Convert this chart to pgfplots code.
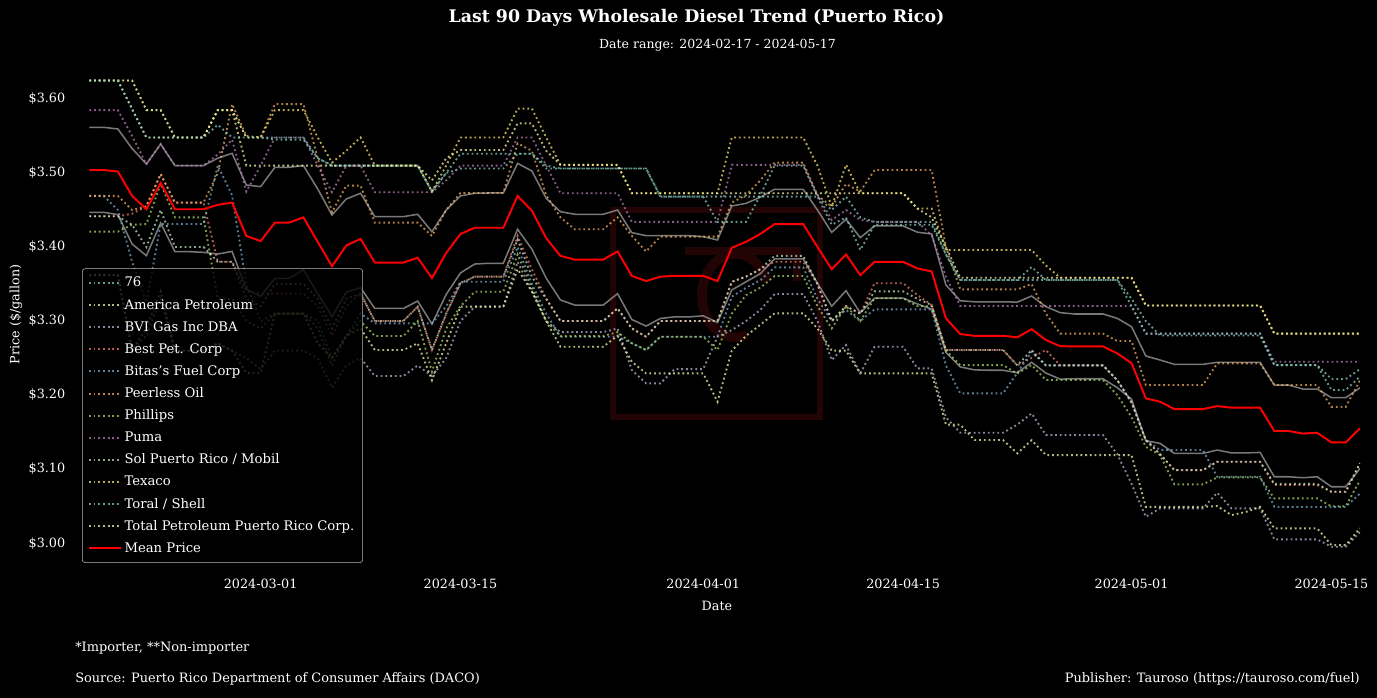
\documentclass[border=0pt]{standalone}
\usepackage{fontspec}
\setmainfont{DejaVu Serif}
\usepackage{pgfplots}
\usepackage{pgfplotstable}
\pgfplotsset{compat=1.18}
\usepgfplotslibrary{fillbetween}

\definecolor{cteal}{HTML}{8DD3C7}
\definecolor{cpale}{HTML}{FFFFB3}
\definecolor{clav}{HTML}{BEBADA}
\definecolor{cred}{HTML}{FB8072}
\definecolor{cblue}{HTML}{80B1D3}
\definecolor{corange}{HTML}{FDB462}
\definecolor{cgreen}{HTML}{B3DE69}
\definecolor{cpurple}{HTML}{BC80BD}
\definecolor{cmint}{HTML}{CCEBC5}
\definecolor{cgold}{HTML}{FFED6F}
\definecolor{gridc}{RGB}{48,48,48}
\definecolor{bandline}{RGB}{120,120,120}
\definecolor{wmark}{RGB}{34,4,4}

% day 0 = 2024-03-01; mean price and the band around it
\pgfplotstableread{
d mean lo hi
-12 3.504 3.4469 3.5617
-11 3.504 3.4469 3.5617
-10 3.502 3.4437 3.5595
-9 3.469 3.404 3.533
-8 3.451 3.3883 3.512
-7 3.4865 3.4324 3.539
-6 3.451 3.3937 3.510
-5 3.451 3.3937 3.510
-4 3.451 3.3928 3.510
-3 3.457 3.3905 3.520
-2 3.460 3.394 3.5266
-1 3.415 3.3432 3.4838
0 3.408 3.3333 3.4815
1 3.433 3.3577 3.5077
2 3.433 3.3577 3.5077
3 3.440 3.3693 3.510
4 3.407 3.337 3.4784
5 3.374 3.306 3.4432
6 3.402 3.339 3.4649
7 3.411 3.345 3.4726
8 3.379 3.317 3.441
9 3.379 3.317 3.441
10 3.379 3.317 3.441
11 3.3855 3.327 3.4442
12 3.358 3.296 3.4207
13 3.392 3.336 3.450
14 3.4176 3.365 3.469
15 3.426 3.377 3.4726
16 3.426 3.378 3.473
17 3.426 3.378 3.473
18 3.469 3.424 3.513
19 3.449 3.397 3.5027
20 3.412 3.358 3.4658
21 3.388 3.3284 3.4477
22 3.383 3.3216 3.4442
23 3.383 3.3216 3.4442
24 3.383 3.3216 3.4442
25 3.394 3.337 3.450
26 3.361 3.302 3.4194
27 3.354 3.2932 3.4153
28 3.360 3.3035 3.4153
29 3.361 3.3056 3.4153
30 3.361 3.3056 3.4153
31 3.361 3.307 3.414
32 3.354 3.298 3.4095
33 3.399 3.3419 3.4554
34 3.407 3.353 3.459
35 3.4176 3.364 3.4672
36 3.431 3.384 3.478
37 3.431 3.384 3.478
38 3.431 3.384 3.478
39 3.400 3.351 3.450
40 3.370 3.320 3.4198
41 3.390 3.341 3.4374
42 3.362 3.311 3.4126
43 3.380 3.331 3.4284
44 3.380 3.331 3.4284
45 3.380 3.331 3.4284
46 3.371 3.323 3.420
47 3.367 3.316 3.4176
48 3.3036 3.2575 3.3486
49 3.2824 3.238 3.3274
50 3.280 3.234 3.326
51 3.280 3.2335 3.326
52 3.280 3.2335 3.326
53 3.278 3.2302 3.3255
54 3.289 3.2442 3.3338
55 3.2743 3.2297 3.3194
56 3.266 3.2215 3.3113
57 3.2657 3.222 3.3095
58 3.2657 3.222 3.3095
59 3.2657 3.222 3.3095
60 3.2563 3.210 3.3036
61 3.243 3.1945 3.2923
62 3.1955 3.1383 3.2527
63 3.191 3.1347 3.2473
64 3.181 3.1212 3.2415
65 3.181 3.1212 3.2415
66 3.181 3.1212 3.2415
67 3.185 3.1257 3.2442
68 3.183 3.1218 3.2442
69 3.183 3.1218 3.2442
70 3.183 3.1225 3.2442
71 3.1514 3.0896 3.2135
72 3.1514 3.0896 3.2135
73 3.148 3.0883 3.2081
74 3.149 3.0896 3.2081
75 3.136 3.0761 3.1964
76 3.136 3.0761 3.1964
77 3.155 3.1009 3.2099
}\band

\pgfplotsset{ser/.style={line width=1.35pt, dash pattern=on 1.3pt off 2.1pt, opacity=0.72}}

\begin{document}
\begin{tikzpicture}
\fill[black] (0,0) rectangle (991.44pt,502.56pt);
% faint logo behind the plot
\draw[wmark, line width=4.5pt] (441.4pt,202.3pt) rectangle (590.4pt,351.4pt);
\draw[wmark, line width=7pt] (552pt,300pt) arc (20:290:24pt and 30pt);
\draw[wmark, line width=6pt] (493pt,322pt) -- (574pt,322pt) -- (574pt,300pt);

\begin{axis}[
  at={(54pt,92.88pt)}, anchor=south west,
  width=925.2pt, height=367.2pt, scale only axis,
  xmin=-13, xmax=77, ymin=2.965, ymax=3.654,
  axis line style={white, line width=0.8pt},
  xtick={0,14,31,45,61,75},
  xticklabels={2024-03-01,2024-03-15,2024-04-01,2024-04-15,2024-05-01,2024-05-15},
  ytick={3.0,3.1,3.2,3.3,3.4,3.5,3.6},
  yticklabels={\$3.00,\$3.10,\$3.20,\$3.30,\$3.40,\$3.50,\$3.60},
  grid=major, grid style={gridc, line width=0.6pt},
  tick align=outside, major tick length=3.5pt,
  tick style={white, line width=0.8pt},
  ticklabel style={white, font=\fontsize{9.2}{11}\selectfont},
  legend cell align=left,
  legend image code/.code={\draw[#1] (0pt,0pt) -- (23pt,0pt);},
  legend style={at={(0.0055,0.012)}, anchor=south west,
    fill=black, fill opacity=0.8, text opacity=1, draw opacity=1,
    draw=white!72!black, rounded corners=2pt, text=white,
    font=\fontsize{9.5}{11}\selectfont, row sep=3.3pt,
    inner xsep=4pt, inner ysep=4pt},
]
% confidence band
\addplot[name path=hi, draw=bandline, line width=1.1pt, forget plot] table[x=d, y=hi] {\band};
\addplot[name path=lo, draw=bandline, line width=1.1pt, forget plot] table[x=d, y=lo] {\band};
\addplot[fill=white, fill opacity=0.2, draw=none, forget plot] fill between[of=hi and lo];

\addplot[ser, cteal] coordinates {(-12,3.625) (-9,3.625) (-8,3.585) (-7,3.585) (-6,3.548) (-4,3.548) (-3,3.585) (-2,3.585) (-1,3.548) (3,3.548) (4,3.52) (5,3.51) (11,3.51) (12,3.475) (13,3.50) (14,3.506) (17,3.506) (18,3.526) (19,3.526) (20,3.51) (21,3.506) (27,3.506) (28,3.468) (39,3.468) (40,3.45) (41,3.468) (42,3.44) (43,3.434) (47,3.434) (48,3.39) (49,3.3554) (53,3.3554) (54,3.373) (55,3.3554) (60,3.3554) (61,3.33) (62,3.30) (63,3.2804) (70,3.2804) (71,3.2405) (74,3.2405) (75,3.2216) (76,3.2216) (77,3.235)};
\addlegendentry{76}
\addplot[ser, cpale] coordinates {(-12,3.625) (-10,3.625) (-8,3.548) (-4,3.548) (-3,3.585) (-2,3.585) (-1,3.51) (11,3.51) (12,3.49) (13,3.52) (14,3.531) (17,3.531) (18,3.567) (19,3.567) (20,3.53) (21,3.511) (25,3.511) (26,3.4726) (45,3.4726) (46,3.452) (47,3.44) (48,3.40) (49,3.3585) (61,3.3585) (62,3.321) (70,3.321) (71,3.283) (77,3.283)};
\addlegendentry{America Petroleum}
\addplot[ser, clav] coordinates {(-12,3.362) (-10,3.362) (-9,3.26) (-8,3.28) (-7,3.33) (-6,3.26) (-4,3.26) (-3,3.27) (-2,3.26) (-1,3.25) (0,3.235) (1,3.26) (3,3.26) (4,3.25) (5,3.21) (6,3.24) (7,3.25) (8,3.2257) (10,3.2257) (11,3.24) (12,3.2257) (13,3.25) (14,3.30) (15,3.3194) (17,3.3194) (18,3.38) (19,3.34) (20,3.30) (21,3.285) (24,3.285) (25,3.29) (26,3.2338) (27,3.2158) (28,3.2158) (29,3.2351) (31,3.2351) (32,3.2788) (33,3.2878) (34,3.30) (35,3.315) (36,3.3365) (38,3.3365) (39,3.30) (40,3.2473) (41,3.2676) (42,3.229) (43,3.2653) (45,3.2653) (46,3.236) (47,3.236) (48,3.17) (49,3.149) (52,3.149) (53,3.16) (54,3.1752) (55,3.146) (59,3.146) (60,3.12) (61,3.08) (62,3.0356) (63,3.0469) (66,3.0469) (67,3.068) (68,3.0469) (70,3.0469) (71,3.005) (74,3.005) (75,2.995) (76,2.995) (77,3.0153)};
\addlegendentry{BVI Gas Inc DBA}
\addplot[ser, cred] coordinates {(-12,3.4415) (-10,3.4415) (-9,3.445) (-8,3.455) (-7,3.4986) (-6,3.46) (-4,3.46) (-3,3.38) (-2,3.38) (-1,3.34) (0,3.337) (3,3.337) (4,3.32) (5,3.28) (6,3.32) (7,3.337) (8,3.30) (10,3.30) (11,3.3194) (12,3.2608) (13,3.31) (14,3.351) (15,3.36) (17,3.36) (18,3.415) (19,3.37) (20,3.33) (21,3.30) (24,3.30) (25,3.3171) (26,3.29) (27,3.2788) (28,3.30) (32,3.30) (33,3.353) (34,3.36) (35,3.37) (36,3.38) (38,3.38) (39,3.35) (40,3.30) (41,3.32) (42,3.31) (43,3.351) (45,3.351) (46,3.335) (47,3.3216) (48,3.2608) (52,3.2608) (53,3.24) (55,3.2608) (56,3.24) (59,3.24) (60,3.22) (61,3.19) (62,3.1392) (63,3.12) (64,3.0986) (66,3.0986) (67,3.1099) (70,3.1099) (71,3.0784) (74,3.0784) (75,3.0693) (76,3.0693) (77,3.108)};
\addlegendentry{Best Pet. Corp}
\addplot[ser, cblue] coordinates {(-12,3.469) (-11,3.469) (-10,3.45) (-9,3.38) (-8,3.325) (-7,3.431) (-4,3.431) (-3,3.51) (-2,3.47) (-1,3.35) (0,3.30) (1,3.31) (3,3.31) (4,3.30) (5,3.25) (6,3.28) (7,3.31) (8,3.2969) (12,3.2969) (13,3.32) (14,3.353) (17,3.353) (18,3.40) (19,3.35) (20,3.31) (21,3.2788) (25,3.2788) (26,3.27) (27,3.2608) (28,3.2788) (32,3.2788) (33,3.3329) (34,3.345) (35,3.355) (36,3.3725) (38,3.3725) (39,3.33) (40,3.30) (41,3.315) (42,3.30) (43,3.3158) (47,3.3158) (48,3.24) (49,3.2023) (52,3.2023) (53,3.23) (54,3.2585) (55,3.24) (59,3.24) (60,3.22) (61,3.19) (62,3.1392) (63,3.1257) (66,3.1257) (67,3.0896) (70,3.0896) (71,3.049) (76,3.049) (77,3.067)};
\addlegendentry{Bitas's Fuel Corp}
\addplot[ser, corange] coordinates {(-12,3.469) (-10,3.469) (-9,3.45) (-8,3.455) (-7,3.4986) (-6,3.46) (-4,3.46) (-3,3.50) (-2,3.593) (-1,3.55) (0,3.548) (1,3.593) (3,3.593) (4,3.52) (5,3.447) (6,3.483) (7,3.483) (8,3.433) (11,3.433) (12,3.415) (13,3.45) (14,3.473) (17,3.473) (18,3.54) (19,3.53) (20,3.47) (21,3.44) (22,3.424) (24,3.424) (25,3.44) (26,3.415) (27,3.394) (28,3.414) (32,3.414) (33,3.46) (34,3.47) (35,3.49) (36,3.514) (38,3.514) (39,3.47) (40,3.4545) (41,3.485) (42,3.475) (43,3.504) (47,3.504) (48,3.40) (49,3.3428) (53,3.3428) (54,3.35) (55,3.31) (56,3.283) (59,3.283) (60,3.273) (61,3.273) (62,3.2135) (66,3.2135) (67,3.2428) (70,3.2428) (71,3.2135) (74,3.2135) (75,3.184) (76,3.184) (77,3.22)};
\addlegendentry{Peerless Oil}
\addplot[ser, cgreen] coordinates {(-12,3.4207) (-10,3.4207) (-9,3.43) (-8,3.431) (-7,3.4855) (-6,3.44) (-4,3.44) (-3,3.33) (-2,3.33) (-1,3.30) (0,3.29) (1,3.31) (3,3.31) (4,3.29) (5,3.24) (6,3.28) (7,3.30) (8,3.2797) (10,3.2797) (11,3.30) (12,3.2315) (13,3.29) (14,3.32) (15,3.3396) (17,3.3396) (18,3.39) (19,3.345) (20,3.30) (21,3.2797) (24,3.2797) (25,3.285) (26,3.27) (27,3.2608) (28,3.2788) (31,3.2788) (32,3.2608) (33,3.31) (34,3.335) (35,3.345) (36,3.3608) (38,3.3608) (39,3.32) (40,3.29) (41,3.32) (42,3.30) (43,3.3307) (45,3.3307) (46,3.32) (47,3.32) (48,3.26) (49,3.2405) (52,3.2405) (53,3.229) (54,3.2405) (55,3.2203) (59,3.2203) (60,3.20) (61,3.17) (62,3.13) (63,3.1189) (64,3.0793) (66,3.0793) (67,3.0887) (70,3.0887) (71,3.0604) (74,3.0604) (75,3.0497) (76,3.0497) (77,3.085)};
\addlegendentry{Phillips}
\addplot[ser, cpurple] coordinates {(-12,3.585) (-10,3.585) (-9,3.55) (-8,3.512) (-7,3.539) (-6,3.51) (-4,3.51) (-3,3.525) (-2,3.545) (-1,3.475) (0,3.51) (1,3.548) (3,3.548) (4,3.51) (5,3.474) (6,3.51) (7,3.51) (8,3.474) (12,3.474) (13,3.49) (14,3.51) (17,3.51) (18,3.548) (19,3.548) (20,3.51) (21,3.4726) (25,3.4726) (26,3.434) (32,3.434) (33,3.511) (38,3.511) (39,3.47) (40,3.4365) (41,3.45) (42,3.4365) (43,3.434) (46,3.434) (47,3.416) (48,3.36) (49,3.3203) (61,3.3203) (62,3.283) (70,3.283) (71,3.245) (77,3.245)};
\addlegendentry{Puma}
\addplot[ser, cmint] coordinates {(-12,3.4415) (-10,3.4415) (-9,3.43) (-8,3.40) (-7,3.45) (-6,3.40) (-4,3.40) (-3,3.38) (-2,3.38) (-1,3.33) (0,3.32) (1,3.35) (3,3.35) (4,3.33) (5,3.29) (6,3.33) (7,3.337) (8,3.30) (10,3.30) (11,3.3194) (12,3.2608) (13,3.31) (14,3.351) (15,3.36) (17,3.36) (18,3.41) (19,3.36) (20,3.33) (21,3.30) (24,3.30) (25,3.3171) (26,3.29) (27,3.2788) (28,3.30) (32,3.30) (33,3.353) (34,3.36) (35,3.37) (36,3.388) (38,3.388) (39,3.35) (40,3.30) (41,3.32) (42,3.31) (43,3.34) (45,3.34) (46,3.33) (47,3.3216) (48,3.2608) (52,3.2608) (53,3.24) (54,3.2608) (55,3.24) (59,3.24) (60,3.22) (61,3.19) (62,3.1392) (63,3.12) (64,3.0986) (66,3.0986) (67,3.1099) (70,3.1099) (71,3.08) (74,3.08) (75,3.0693) (76,3.0693) (77,3.108)};
\addlegendentry{Sol Puerto Rico / Mobil}
\addplot[ser, cgold] coordinates {(-12,3.625) (-9,3.625) (-8,3.585) (-7,3.585) (-6,3.548) (-4,3.548) (-3,3.585) (-2,3.585) (-1,3.548) (0,3.548) (1,3.585) (3,3.585) (4,3.548) (5,3.514) (6,3.53) (7,3.548) (8,3.51) (11,3.51) (12,3.475) (13,3.51) (14,3.548) (17,3.548) (18,3.587) (19,3.587) (20,3.548) (21,3.511) (25,3.511) (26,3.4726) (32,3.4726) (33,3.548) (38,3.548) (39,3.51) (40,3.4545) (41,3.511) (42,3.4726) (45,3.4726) (46,3.452) (47,3.452) (48,3.396) (54,3.396) (55,3.375) (56,3.3585) (61,3.3585) (62,3.321) (70,3.321) (71,3.283) (77,3.283)};
\addlegendentry{Texaco}
\addplot[ser, cteal] coordinates {(-12,3.625) (-10,3.625) (-8,3.548) (-4,3.548) (-3,3.565) (-2,3.548) (0,3.548) (1,3.545) (3,3.545) (4,3.52) (5,3.51) (11,3.51) (12,3.475) (13,3.50) (14,3.526) (19,3.526) (20,3.506) (27,3.506) (28,3.468) (31,3.468) (32,3.434) (34,3.434) (35,3.47) (36,3.51) (38,3.51) (39,3.468) (40,3.43) (41,3.44) (42,3.396) (43,3.43) (47,3.43) (48,3.39) (49,3.3554) (60,3.3554) (61,3.32) (62,3.283) (70,3.283) (71,3.2405) (74,3.2405) (75,3.2068) (76,3.2068) (77,3.225)};
\addlegendentry{Toral / Shell}
\addplot[ser, cpale] coordinates {(-12,3.362) (-10,3.362) (-9,3.26) (-8,3.29) (-7,3.34) (-6,3.26) (-4,3.26) (-3,3.27) (-2,3.26) (-1,3.23) (0,3.23) (1,3.31) (3,3.31) (4,3.27) (5,3.25) (6,3.28) (7,3.29) (8,3.2608) (10,3.2608) (11,3.27) (12,3.22) (13,3.27) (14,3.3194) (17,3.3194) (18,3.37) (19,3.34) (20,3.30) (21,3.2653) (24,3.2653) (25,3.28) (26,3.245) (27,3.2293) (31,3.2293) (32,3.191) (33,3.26) (34,3.28) (35,3.295) (36,3.3104) (38,3.3104) (39,3.29) (40,3.26) (41,3.26) (42,3.2293) (47,3.2293) (48,3.16) (49,3.16) (50,3.1392) (52,3.1392) (53,3.1212) (54,3.139) (55,3.1189) (61,3.1189) (62,3.049) (66,3.049) (67,3.05) (68,3.0378) (69,3.042) (70,3.049) (71,3.0198) (74,3.0198) (75,2.9973) (76,2.9973) (77,3.02)};
\addlegendentry{Total Petroleum Puerto Rico Corp.}

\addplot[red, line width=1.4pt] table[x=d, y=mean] {\band};
\addlegendentry{Mean Price}
\end{axis}

\node[white, font=\bfseries\fontsize{12.5}{14}\selectfont] at (501.5pt,489.6pt) {Last 90 Days Wholesale Diesel Trend (Puerto Rico)};
\node[white, font=\fontsize{9}{11}\selectfont] at (516.6pt,470.2pt) {Date range: 2024-02-17 - 2024-05-17};
\node[white, font=\fontsize{9.2}{11}\selectfont] at (516.2pt,66.2pt) {Date};
\node[white, font=\fontsize{9.2}{11}\selectfont, rotate=90] at (11.5pt,276.1pt) {Price (\$/gallon)};
\node[white, font=\fontsize{9.3}{11}\selectfont, anchor=west, inner sep=0pt] at (54pt,36pt) {*Importer, **Non-importer};
\node[white, font=\fontsize{9.3}{11}\selectfont, anchor=west, inner sep=0pt] at (54pt,13.7pt) {Source: Puerto Rico Department of Consumer Affairs (DACO)};
\node[white, font=\fontsize{9.3}{11}\selectfont, anchor=east, inner sep=0pt] at (979.2pt,13.7pt) {Publisher: Tauroso (https://tauroso.com/fuel)};
\end{tikzpicture}
\end{document}
